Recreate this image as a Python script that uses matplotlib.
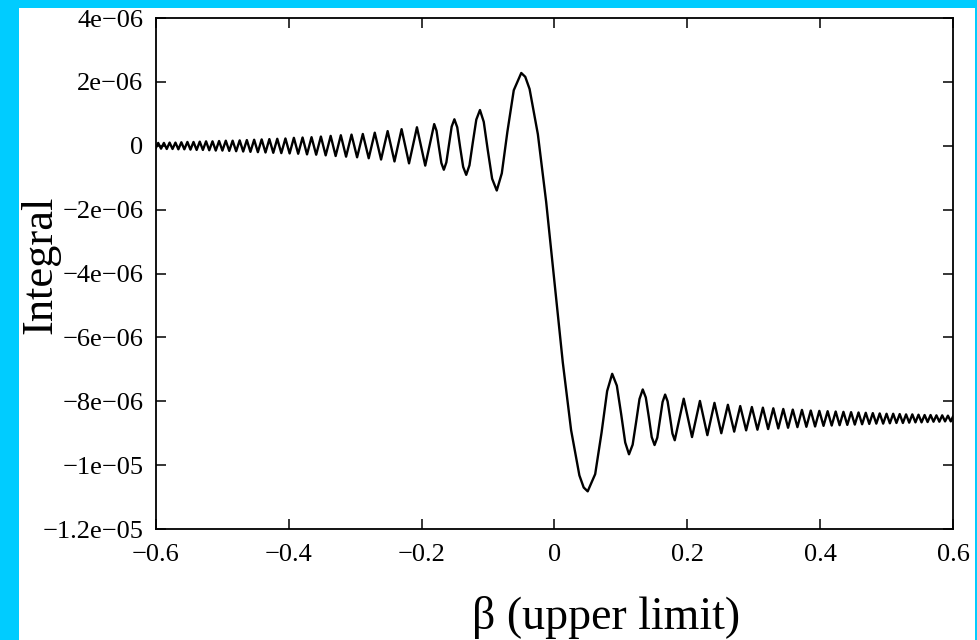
import numpy as np
import matplotlib
matplotlib.use("Agg")
import matplotlib.pyplot as plt
from matplotlib.patches import Rectangle

plt.rcParams['font.family'] = ['Liberation Serif', 'DejaVu Serif']

# ---------------------------------------------
# Data (values in 1e-06)
# ---------------------------------------------
# |beta| of each turning point of the ringing, same on both sides of 0
beta_ext = [0.0500, 0.0869, 0.1122, 0.1329, 0.1507, 0.1666, 0.1811, 0.1946, 0.2071, 0.2190,
            0.2302, 0.2409, 0.2512, 0.2611, 0.2706, 0.2797, 0.2886, 0.2972, 0.3056, 0.3138,
            0.3217, 0.3295, 0.3370, 0.3445, 0.3517, 0.3588, 0.3658, 0.3726, 0.3793, 0.3859,
            0.3924, 0.3988, 0.4051, 0.4113, 0.4174, 0.4234, 0.4293, 0.4351, 0.4409, 0.4466,
            0.4522, 0.4578, 0.4632, 0.4687, 0.4740, 0.4793, 0.4846, 0.4897, 0.4949, 0.5000,
            0.5050, 0.5100, 0.5149, 0.5198, 0.5246, 0.5294, 0.5341, 0.5388, 0.5435, 0.5481,
            0.5527, 0.5573, 0.5618, 0.5663, 0.5707, 0.5751, 0.5795, 0.5838, 0.5881, 0.5924,
            0.5967]
# height of each turning point above / below the level it rings around
amp_ext = [2.28, 1.40, 1.12, 0.91, 0.83, 0.75, 0.68, 0.62, 0.58, 0.55,
           0.52, 0.49, 0.46, 0.43, 0.41, 0.39, 0.37, 0.36, 0.35, 0.34,
           0.33, 0.32, 0.31, 0.30, 0.29, 0.28, 0.27, 0.27, 0.26, 0.25,
           0.25, 0.24, 0.23, 0.23, 0.22, 0.22, 0.21, 0.21, 0.20, 0.20,
           0.19, 0.19, 0.18, 0.18, 0.17, 0.17, 0.16, 0.16, 0.16, 0.15,
           0.15, 0.15, 0.14, 0.14, 0.14, 0.13, 0.13, 0.13, 0.12, 0.12,
           0.12, 0.11, 0.11, 0.11, 0.10, 0.10, 0.10, 0.10, 0.09, 0.09,
           0.09]
left_level = 0.0
right_level = -8.54

# points on the flanks of the big lobes and on the central drop
beta_mid = [-0.1776, -0.1740, -0.1703, -0.1628, -0.1588, -0.1548, -0.1464, -0.1421, -0.1375,
            -0.1280, -0.1230, -0.1177, -0.1065, -0.1004, -0.0939, -0.0793, -0.0709, -0.0613,
            -0.044, -0.0375, -0.025, -0.0125, 0.0, 0.0125, 0.025, 0.0375, 0.044,
            0.0613, 0.0709, 0.0793, 0.0939, 0.1004, 0.1065, 0.1177, 0.1230, 0.1280,
            0.1375, 0.1421, 0.1464, 0.1548, 0.1588, 0.1628, 0.1703, 0.1740, 0.1776]
val_mid = [0.47, -0.04, -0.54, -0.52, 0.04, 0.60, 0.58, -0.04, -0.66,
           -0.61, 0.10, 0.82, 0.75, -0.14, -1.03, -0.86, 0.44, 1.74,
           2.16, 1.78, 0.36, -1.76, -4.27, -6.78, -8.90, -10.32, -10.70,
           -10.28, -8.98, -7.68, -7.51, -8.40, -9.29, -9.36, -8.64, -7.93,
           -7.88, -8.50, -9.12, -9.14, -8.58, -8.02, -8.00, -8.50, -9.01]

beta_ends = [-0.6, 0.6]
val_ends = [-0.06, -8.48]

x_ticks = [-0.6, -0.4, -0.2, 0.0, 0.2, 0.4, 0.6]
x_labels = ["\u22120.6", "\u22120.4", "\u22120.2", "0", "0.2", "0.4", "0.6"]
y_ticks = [4e-06, 2e-06, 0.0, -2e-06, -4e-06, -6e-06, -8e-06, -1e-05, -1.2e-05]
y_labels = ["4e\u221206", "2e\u221206", "0", "\u22122e\u221206", "\u22124e\u221206",
            "\u22126e\u221206", "\u22128e\u221206", "\u22121e\u221205", "\u22121.2e\u221205"]

# ---------------------------------------------
# Build the curve: turning points + flank points
# ---------------------------------------------
b = np.array(beta_ext)
a = np.array(amp_ext)
sign = np.where(np.arange(len(b)) % 2 == 0, 1.0, -1.0)

xs = np.concatenate([-b, b, beta_mid, beta_ends])
ys = np.concatenate([left_level + sign * a, right_level - sign * a, val_mid, val_ends])
order = np.argsort(xs)
xs = xs[order]
ys = ys[order] * 1e-6

# ---------------------------------------------
# Plot
# ---------------------------------------------
fig = plt.figure(figsize=(9.78, 6.40), dpi=100, facecolor='#00ccff')
panel = Rectangle((19 / 978, 0), (975 - 19) / 978, (640 - 8) / 640,
                  transform=fig.transFigure, facecolor='white', edgecolor='none')
panel.set_zorder(-10)
fig.add_artist(panel)

ax = fig.add_axes([0.1595, 0.1734, 0.8149, 0.7984])
ax.set_zorder(1)
ax.patch.set_alpha(0)
ax.plot(xs, ys, color='black', lw=1.7)

ax.set_xlim(-0.6, 0.6)
ax.set_ylim(-1.2e-05, 4e-06)
ax.set_xticks(x_ticks)
ax.set_xticklabels(x_labels)
ax.set_yticks(y_ticks)
ax.set_yticklabels(y_labels)
ax.tick_params(direction='in', length=7, width=1.1, top=True, right=True,
               labelsize=19, pad=9)
ax.tick_params(axis='x', pad=11)
for s in ax.spines.values():
    s.set_linewidth(1.3)

fig.text(40 / 978, 0.586, "Integral", rotation=90, ha='center', va='center', fontsize=32)
fig.text(0.6196, 0.0172, "\u03b2 (upper limit)", ha='center', va='baseline', fontsize=33)

fig.savefig("out.png", dpi=100, facecolor=fig.get_facecolor())
